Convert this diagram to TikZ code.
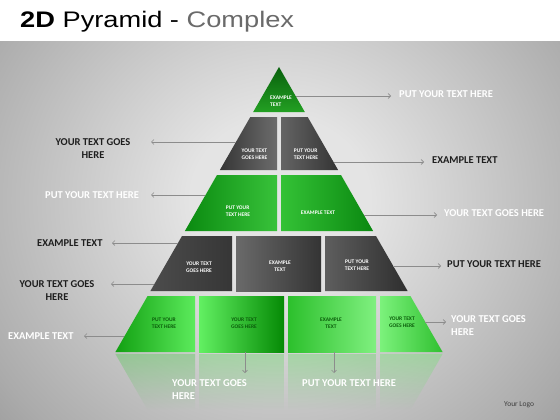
\documentclass[tikz,border=0pt]{standalone}
\usepackage{fontspec}
\setmainfont{Carlito}
\newfontfamily\titlefont{Liberation Sans}
\usetikzlibrary{arrows.meta, positioning, fadings}

\definecolor{bgin}{HTML}{E4E4E4}
\definecolor{bgmid}{HTML}{ABABAB}
\definecolor{bgout}{HTML}{6A6A6A}
\definecolor{bgedge}{HTML}{505050}
\definecolor{titlegray}{HTML}{6A6A6A}
\definecolor{inkdark}{HTML}{1E1E1E}
\definecolor{pointergray}{HTML}{8C8C8C}
\definecolor{leafgreen}{HTML}{0B5E0B}
\definecolor{mirrorA}{HTML}{50C850}
\definecolor{mirrorB}{HTML}{64D764}
\definecolor{mirrorC}{HTML}{6EE16E}
\pgfdeclareradialshading{slidebg}{\pgfpoint{0bp}{0bp}}{color(0bp)=(bgin); color(8bp)=(bgin); color(30bp)=(bgmid); color(50bp)=(bgout); color(72bp)=(bgedge)}

\begin{document}
\begin{tikzpicture}[
  x=1pt, y=-1pt,
  celltext/.style={font=\fontsize{5.5}{7.5}\selectfont\bfseries, text=white, align=center, inner sep=0pt},
  basetext/.style={celltext, text=leafgreen},
  whitetext/.style={font=\fontsize{10.5}{13}\selectfont\bfseries, text=white, inner sep=0pt},
  darktext/.style={whitetext, text=inkdark},
  pointer/.style={draw=pointergray, line width=0.6pt, -{Straight Barb[length=2.5pt, width=5pt]}},
  mirror/.style={fill=#1, fill opacity=0.4, path fading=south}
]
\useasboundingbox (0,0) rectangle (560,420);

% Slide
\fill[white] (0,0) rectangle (560,42);
\begin{scope}
  \clip (0,42) rectangle (560,420);
  \shade[shading=slidebg] (0,-60) rectangle (560,460);
\end{scope}
\node[anchor=base west, inner sep=0pt, font=\titlefont\fontsize{22.5}{23}\selectfont, xscale=1.21, transform shape] (title) at (20,28) {\textbf{2D} Pyramid - \textcolor{titlegray}{Complex}};

% Pyramid
\shade[top color={rgb,255:red,8;green,96;blue,12}, bottom color={rgb,255:red,35;green,160;blue,35}] (279,67) -- (304.8,112) -- (253.2,112) -- cycle;

\shade[left color={rgb,255:red,54;green,54;blue,54}, right color={rgb,255:red,108;green,108;blue,108}] (250.3,117) -- (277,117) -- (277,170) -- (219.9,170) -- cycle;
\shade[left color={rgb,255:red,100;green,100;blue,100}, right color={rgb,255:red,52;green,52;blue,52}] (281,117) -- (307.7,117) -- (338.1,170) -- (281,170) -- cycle;

\shade[left color={rgb,255:red,10;green,138;blue,16}, right color={rgb,255:red,56;green,194;blue,58}] (217,175) -- (277,175) -- (277,231) -- (184.9,231) -- cycle;
\shade[left color={rgb,255:red,52;green,194;blue,54}, right color={rgb,255:red,10;green,136;blue,16}] (281,175) -- (341,175) -- (373.1,231) -- (281,231) -- cycle;

\shade[left color={rgb,255:red,76;green,76;blue,76}, middle color={rgb,255:red,98;green,98;blue,98}, right color={rgb,255:red,54;green,54;blue,54}] (182,236) -- (232,236) -- (232,291) -- (150.4,291) -- cycle;
\shade[left color={rgb,255:red,106;green,106;blue,106}, right color={rgb,255:red,52;green,52;blue,52}] (236,236) -- (321,236) -- (321,291) -- (236,291) -- cycle;
\shade[left color={rgb,255:red,94;green,94;blue,94}, right color={rgb,255:red,46;green,46;blue,46}] (325,236) -- (376,236) -- (407.6,291) -- (325,291) -- cycle;

\shade[left color={rgb,255:red,18;green,160;blue,18}, right color={rgb,255:red,92;green,235;blue,92}] (147.6,296) -- (195,296) -- (195,352) -- (115.4,352) -- cycle;
\shade[left color={rgb,255:red,98;green,240;blue,98}, right color={rgb,255:red,5;green,138;blue,5}] (199,296) -- (284,296) -- (284,352) -- (199,352) -- cycle;
\shade[left color={rgb,255:red,44;green,192;blue,44}, right color={rgb,255:red,128;green,240;blue,128}] (288,296) -- (376,296) -- (376,352) -- (288,352) -- cycle;
\shade[left color={rgb,255:red,124;green,242;blue,124}, right color={rgb,255:red,48;green,192;blue,48}] (380,296) -- (410.4,296) -- (442.6,352) -- (380,352) -- cycle;

% Reflection
\path[mirror=mirrorA] (115.4,354) -- (195,354) -- (195,410) -- (147.6,410) -- cycle;
\path[mirror=mirrorB] (199,354) -- (284,354) -- (284,410) -- (199,410) -- cycle;
\path[mirror=mirrorB] (288,354) -- (376,354) -- (376,410) -- (288,410) -- cycle;
\path[mirror=mirrorC] (380,354) -- (442.6,354) -- (410.4,410) -- (380,410) -- cycle;

% Cell texts
\node[celltext, align=left] (apex) at (281,101) {EXAMPLE\\TEXT};
\node[celltext, align=left] (c21) at (254.5,154) {YOUR TEXT\\GOES HERE};
\node[celltext, align=left] (c22) at (306,154) {PUT YOUR\\TEXT HERE};
\node[celltext, align=left] (c31) at (238,211) {PUT YOUR\\TEXT HERE};
\node[celltext] (c32) at (318,213) {EXAMPLE TEXT};
\node[celltext] (c41) at (199,267) {YOUR TEXT\\GOES HERE};
\node[celltext] (c42) at (280,266) {EXAMPLE\\TEXT};
\node[celltext] (c43) at (357,265) {PUT YOUR\\TEXT HERE};
\node[basetext] (c51) at (164,323) {PUT YOUR\\TEXT HERE};
\node[basetext] (c52) at (244,323) {YOUR TEXT\\GOES HERE};
\node[basetext] (c53) at (331,323) {EXAMPLE\\TEXT};
\node[basetext] (c54) at (402,322) {YOUR TEXT\\GOES HERE};

% Labels
\node[whitetext, anchor=west] (r1) at (399,94) {PUT YOUR TEXT HERE};
\node[darktext, anchor=west] (r2) at (432,160) {EXAMPLE TEXT};
\node[whitetext, anchor=west] (r3) at (444,213) {YOUR TEXT GOES HERE};
\node[darktext, anchor=west] (r4) at (447,264) {PUT YOUR TEXT HERE};
\node[whitetext, anchor=west, align=left] (r5) at (451,325.5) {YOUR TEXT GOES\\HERE};

\node[darktext, align=center] (l1) at (93,148.5) {YOUR TEXT GOES\\HERE};
\node[whitetext, anchor=west] (l2) at (45,195) {PUT YOUR TEXT HERE};
\node[darktext, anchor=west] (l3) at (37,243) {EXAMPLE TEXT};
\node[darktext, align=center] (l4) at (57,290.5) {YOUR TEXT GOES\\HERE};
\node[whitetext, anchor=west] (l5) at (8,336) {EXAMPLE TEXT};

\node[whitetext, anchor=north west, align=left] (d1) at (172,379) {YOUR TEXT GOES\\HERE};
\node[whitetext, anchor=north west] (d2) at (302,379) {PUT YOUR TEXT HERE};

\node[font=\fontsize{7.5}{9}\selectfont, text=inkdark!85, anchor=west, inner sep=0pt] (logo) at (504,405) {Your Logo};

% Connections
\coordinate (e1) at (296,96);   \coordinate (h1) at (391,96);
\coordinate (e2) at (334,162);  \coordinate (h2) at (424,162);
\coordinate (e3) at (364,215);  \coordinate (h3) at (437,215);
\coordinate (e4) at (393,266);  \coordinate (h4) at (441,266);
\coordinate (e5) at (425,322);  \coordinate (h5) at (446,322);
\coordinate (w1) at (236,142);  \coordinate (k1) at (151,142);
\coordinate (w2) at (205,195);  \coordinate (k2) at (151,195);
\coordinate (w3) at (178,243);  \coordinate (k3) at (112,243);
\coordinate (w4) at (154,284);  \coordinate (k4) at (111,284);
\coordinate (w5) at (124,336);  \coordinate (k5) at (84,336);
\coordinate (s1) at (245,352);  \coordinate (s2) at (334,352);

\draw[pointer] (e1) -- (h1);
\draw[pointer] (e2) -- (h2);
\draw[pointer] (e3) -- (h3);
\draw[pointer] (e4) -- (h4);
\draw[pointer] (e5) -- (h5);
\draw[pointer] (w1) -- (k1);
\draw[pointer] (w2) -- (k2);
\draw[pointer] (w3) -- (k3);
\draw[pointer] (w4) -- (k4);
\draw[pointer] (w5) -- (k5);
\draw[pointer] (s1) -- ++(0,21);
\draw[pointer] (s2) -- ++(0,21);

\end{tikzpicture}
\end{document}
